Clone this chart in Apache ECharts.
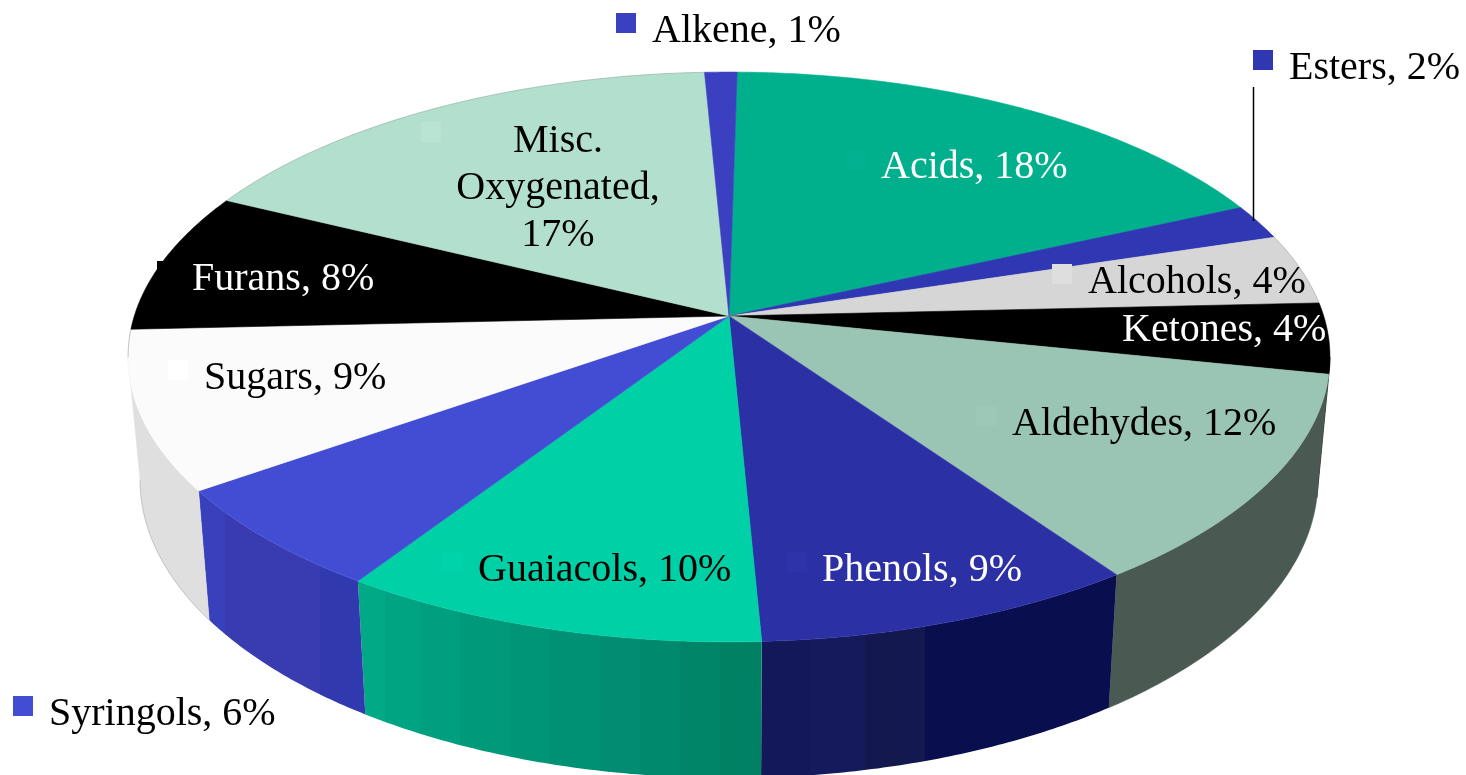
<!DOCTYPE html>
<html>
<head>
<meta charset="utf-8">
<style>html,body{margin:0;padding:0;background:#fff}#chart{width:1466px;height:775px}</style>
<script src="https://cdn.jsdelivr.net/npm/echarts@6/dist/echarts.min.js"></script>
</head>
<body>
<div id="chart"></div>
<script>
// Composition by compound class, clockwise from twelve o'clock.
const categories = ['Acids','Esters','Alcohols','Ketones','Aldehydes','Phenols','Guaiacols','Syringols','Sugars','Furans','Misc.\nOxygenated','Alkene'];
const values = [18,2,4,4,12,9,10,6,9,8,17,1];

const topColors = ['#00B08C','#2F37B3','#D6D6D6','#000000','#9AC4B3','#2B31A4','#00D0A6','#434DD3','#FBFBFB','#000000','#B3E0CE','#3A40BF'];
const keyColors = ['#00B28F','#2F37B3','#DEDEDE','#000000','#9DC8B7','#2D33A8','#00D2A9','#434DD3','#FFFFFF','#000000','#B9E4D4','#3A40BF'];
const textColors = ['#fff','#000','#000','#fff','#000','#fff','#000','#000','#000','#fff','#000','#000'];

// Rim shading: [x where the band starts, colour] for each slice that shows a side wall.
const sideBands = {
  Ketones: [[1300,'#000000']],
  Aldehydes: [[1090,'#4A5A53']],
  Phenols: [[763,'#121859'],[810,'#141A5C'],[865,'#13194F'],[925,'#090E4F']],
  Guaiacols: [[352,'#02A987'],[385,'#00A483'],[420,'#009F7F'],[460,'#009A7B'],[510,'#009577'],[550,'#009074'],[600,'#008D71'],[640,'#00896C'],[680,'#008568'],[720,'#008164']],
  Syringols: [[195,'#3840BB'],[225,'#393CB0'],[320,'#3039AE']],
  Sugars: [[130,'#DFDFDF']]
};

// Label anchors, as [text x, text middle y, key x, key y]; x is the left edge except for centred text.
const labelLayout = {
  Acids: [881,167,846,150],
  Esters: [1289,68,1253,50],
  Alcohols: [1088,282,1052,264],
  Ketones: [1122,330,1086,312],
  Aldehydes: [1012,424,976,406],
  Phenols: [822,570,787,552],
  Guaiacols: [478,570,442,552],
  Syringols: [49,714,13,696],
  Sugars: [204,378,168,360],
  Furans: [192,279,157,261],
  'Misc.\nOxygenated': [558,188,421,122],
  Alkene: [652,31,616,13]
};

// Perspective pie: the near rim is drawn larger than the far rim.
const tilt = -0.1438;
const startDeg = 0.9;
const topFace = {cx:729, cy:316, rx:594.7, ry:279};
const baseFace = {cx:729, cy:437, rx:582.8, ry:292};
const frontFrom = 98.3, frontTo = 261.7;
const total = values.reduce((a, b) => a + b, 0);

function project(face, deg) {
  const t = (deg + startDeg) * Math.PI / 180;
  const u = Math.sin(t), v = -Math.cos(t);
  const w = 1 + tilt * v;
  return [face.cx + face.rx * u / w, face.cy + face.ry * v / w];
}
function arc(face, a, b) {
  const pts = [];
  const n = Math.max(2, Math.ceil((b - a) / 0.5));
  for (let i = 0; i <= n; i++) pts.push(project(face, a + (b - a) * i / n));
  return pts;
}
function bandFill(bands, x1) {
  if (bands.length === 1) return bands[0][1];
  const x0 = bands[0][0];
  const stops = [];
  bands.forEach((b, i) => {
    const end = i + 1 < bands.length ? bands[i + 1][0] : x1;
    stops.push({offset:(b[0] - x0) / (x1 - x0), color:b[1]});
    stops.push({offset:(end - x0) / (x1 - x0), color:b[1]});
  });
  return {type:'linear', global:true, x:x0, y:0, x2:x1, y2:0, colorStops:stops};
}

function renderSlice(params, api) {
  const i = params.dataIndex;
  const name = categories[i];
  const before = values.slice(0, i).reduce((a, b) => a + b, 0);
  const a = before / total * 360, b = (before + api.value(0)) / total * 360;
  const children = [];

  const fromA = Math.max(a, frontFrom - startDeg), toA = Math.min(b, frontTo - startDeg);
  if (toA > fromA && sideBands[name]) {
    const upper = arc(topFace, fromA, toA), lower = arc(baseFace, fromA, toA);
    const xs = upper.concat(lower).map(p => p[0]);
    const fill = bandFill(sideBands[name], Math.max.apply(null, xs) + 1);
    children.push({type:'polygon', z2:1, shape:{points:upper.concat(lower.reverse())},
      style:{fill:fill, stroke:typeof fill === 'string' ? fill : null, lineWidth:0.5}});
  }

  const rim = arc(topFace, a, b);
  children.push({type:'polygon', z2:2, shape:{points:[[topFace.cx, topFace.cy]].concat(rim)},
    style:{fill:topColors[i], stroke:topColors[i], lineWidth:0.6}});
  if (name === 'Sugars') {
    children.push({type:'polyline', z2:3, shape:{points:arc(topFace, frontTo - startDeg, b)}, style:{fill:null, stroke:'#999', lineWidth:0.6}});
    children.push({type:'polyline', z2:3, shape:{points:arc(baseFace, a, frontTo - startDeg)}, style:{fill:null, stroke:'#aaa', lineWidth:0.6}});
  } else if (name === 'Alcohols' || name.indexOf('Misc') === 0) {
    children.push({type:'polyline', z2:3, shape:{points:rim}, style:{fill:null, stroke:'rgba(90,90,90,0.35)', lineWidth:0.7}});
  }

  const l = labelLayout[name];
  children.push({type:'rect', z2:4, shape:{x:l[2], y:l[3], width:20, height:20}, style:{fill:keyColors[i]}});
  const multi = name.indexOf('\n') >= 0;
  children.push({type:'text', z2:5, style:{
    text:name + (multi ? ',\n' : ', ') + api.value(0) + '%',
    x:l[0], y:l[1], align:multi ? 'center' : 'left', verticalAlign:'middle',
    font:'40px "Liberation Serif"', lineHeight:47, fill:textColors[i]
  }});
  if (name === 'Esters') {
    children.push({type:'line', z2:3, shape:{x1:1253.5, y1:87, x2:1253.5, y2:221}, style:{stroke:'#000', lineWidth:1.5}});
  }
  return {type:'group', children:children};
}

const chart = echarts.init(document.getElementById('chart'), null, {renderer:'canvas'});
chart.setOption({
  backgroundColor:'#ffffff',
  animation:false,
  series:[{
    type:'custom',
    coordinateSystem:'none',
    silent:true,
    clip:false,
    renderItem:renderSlice,
    data:values.map((v, i) => ({name:categories[i], value:[v]}))
  }]
});
</script>
</body>
</html>
